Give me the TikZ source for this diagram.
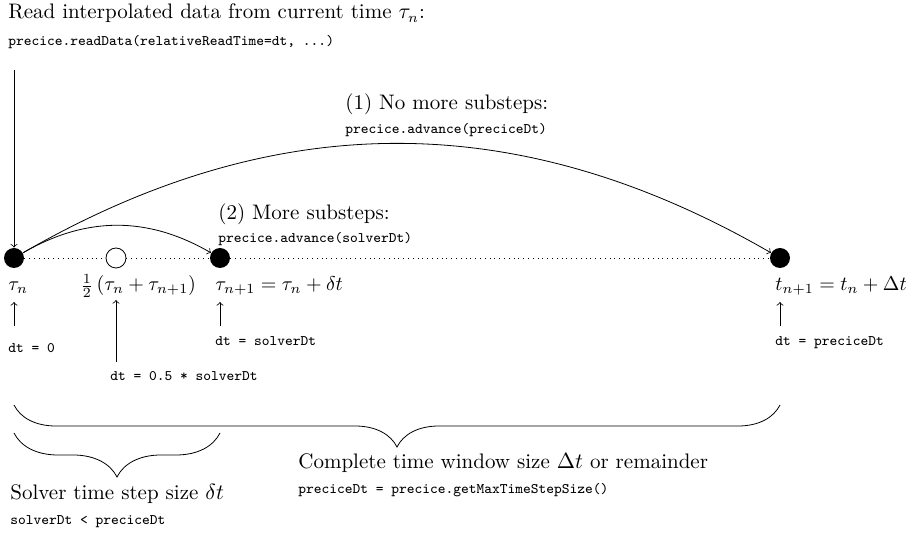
\documentclass[tikz,border=0pt]{standalone}
\usetikzlibrary{decorations.pathreplacing}
\tikzset{
  x=0.5pt, y=-0.5pt,
  txt/.style={anchor=base west, inner sep=0pt, font=\fontsize{10.5}{12.6}\selectfont},
  mlab/.style={anchor=base west, inner sep=0pt, font=\normalsize},
  code/.style={anchor=base west, inner sep=0pt, font=\fontsize{7.3}{9}\selectfont\ttfamily},
  dot/.style={circle, fill=black, minimum size=10pt, inner sep=0pt},
  odot/.style={circle, draw=black, fill=white, minimum size=10pt, inner sep=0pt},
  brc/.style={decorate, decoration={brace, mirror, amplitude=#1}},
}
\begin{document}
\begin{tikzpicture}
\useasboundingbox (0,0) rectangle (918,534);
% title
\node[txt] (title) at (8,19) {Read interpolated data from current time $\tau_n$:};
\node[code] (titlecode) at (8,46) {precice.readData(relativeReadTime=dt, ...)};
% points
\node[dot] (d0) at (14,258) {};
\node[odot] (dh) at (116,258) {};
\node[dot] (d1) at (220,258) {};
\node[dot] (d3) at (780,258) {};
\draw[dotted] (d0) -- (dh) -- (d1) -- (d3);
% read arrow
\coordinate (top) at (14,70);
\draw[->] (top) -- (d0);
% advance arrows
\draw[->] (d0) to[bend left=30] (d1);
\draw[->] (d0) to[bend left=30] (d3);
\node[txt] (l1) at (345,110) {(1) No more substeps:};
\node[code] (l1c) at (345,134) {precice.advance(preciceDt)};
\node[txt] (l2) at (218,220) {(2) More substeps:};
\node[code] (l2c) at (218,243) {precice.advance(solverDt)};
% labels under points
\node[mlab] (t0) at (8,291) {$\tau_n$};
\node[mlab] (th) at (80,291) {$\frac{1}{2}\left(\tau_n+\tau_{n+1}\right)$};
\node[mlab] (t1) at (215,291) {$\tau_{n+1}=\tau_n+\delta t$};
\node[mlab] (t3) at (775,291) {$t_{n+1}=t_n+\Delta t$};
% up arrows
\coordinate (a0b) at (14,326); \coordinate (a0t) at (14,302);
\coordinate (ahb) at (116,362); \coordinate (aht) at (116,300);
\coordinate (a1b) at (220,326); \coordinate (a1t) at (220,302);
\coordinate (a3b) at (780,326); \coordinate (a3t) at (780,302);
\draw[->] (a0b) -- (a0t);
\draw[->] (ahb) -- (aht);
\draw[->] (a1b) -- (a1t);
\draw[->] (a3b) -- (a3t);
\node[code] (c0) at (8,353) {dt = 0};
\node[code] (ch) at (110,381) {dt = 0.5 * solverDt};
\node[code] (c1) at (215,346) {dt = solverDt};
\node[code] (c3) at (775,346) {dt = preciceDt};
% braces
\coordinate (bl) at (14,405); \coordinate (br) at (780,405);
\draw[brc=21pt] (bl) -- (br);
\coordinate (sl) at (14,433); \coordinate (sr) at (220,433);
\draw[brc=22pt] (sl) -- (sr);
\node[txt] (bt) at (298,469) {Complete time window size $\Delta t$ or remainder};
\node[code] (btc) at (298,494) {preciceDt = precice.getMaxTimeStepSize()};
\node[txt] (st) at (10,500) {Solver time step size $\delta t$};
\node[code] (stc) at (10,525) {solverDt < preciceDt};
\end{tikzpicture}
\end{document}
